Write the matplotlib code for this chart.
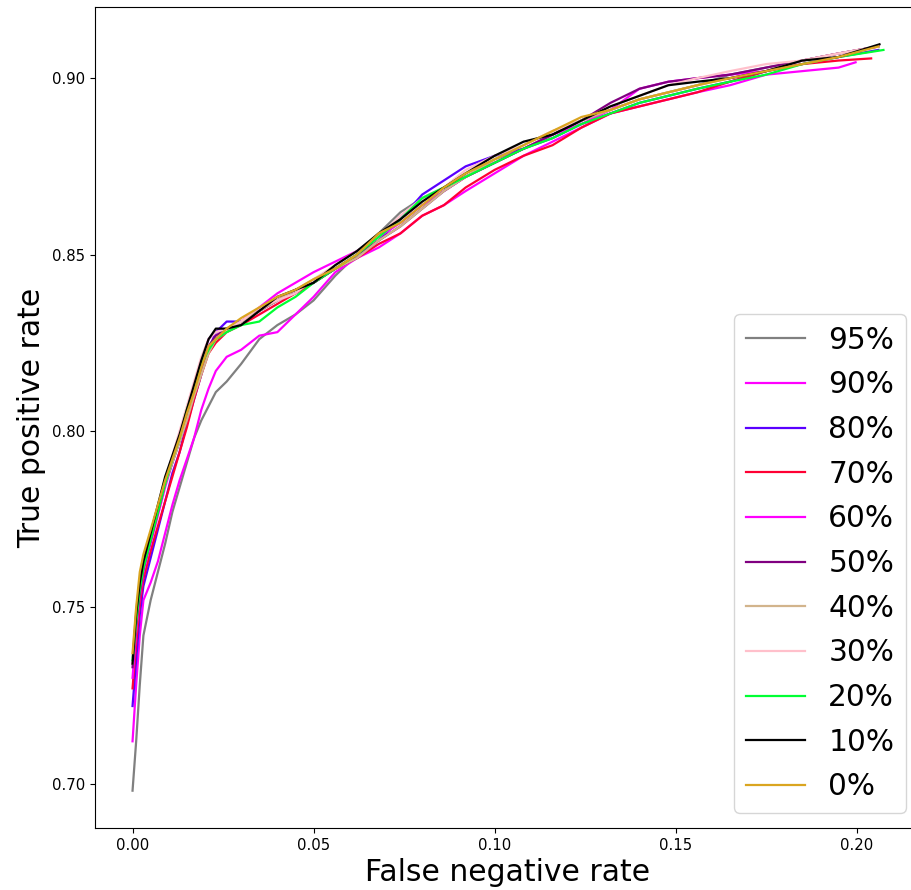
import matplotlib
matplotlib.use("Agg")
import matplotlib.pyplot as plt

# false negative rate grid shared by all curves (last point is per curve)
fnr = [0.000, 0.001, 0.002, 0.003, 0.005, 0.007, 0.009, 0.011, 0.013, 0.015,
       0.017, 0.019, 0.021, 0.023, 0.026, 0.030, 0.035, 0.040, 0.045, 0.050,
       0.056, 0.062, 0.068, 0.074, 0.080, 0.086, 0.092, 0.100, 0.108, 0.116,
       0.124, 0.132, 0.140, 0.148, 0.156, 0.165, 0.175, 0.185, 0.195]

labels = ["95%", "90%", "80%", "70%", "60%", "50%", "40%", "30%", "20%", "10%", "0%"]
colors = ["grey", "magenta", "#5a00ff", "#ff0033", "magenta", "purple",
          "tan", "pink", "#00ff33", "black", "goldenrod"]
last_fnr = [0.206, 0.1997, 0.206, 0.204, 0.206, 0.206, 0.206, 0.206, 0.2074, 0.2063, 0.206]

tpr_95 = [0.698, 0.712, 0.728, 0.742, 0.752, 0.760, 0.768, 0.777, 0.784, 0.791,
          0.798, 0.803, 0.807, 0.811, 0.814, 0.819, 0.826, 0.830, 0.833, 0.837,
          0.844, 0.850, 0.856, 0.862, 0.866, 0.869, 0.872, 0.877, 0.880, 0.884,
          0.888, 0.891, 0.894, 0.896, 0.898, 0.901, 0.903, 0.905, 0.907, 0.909]
tpr_90 = [0.712, 0.728, 0.742, 0.752, 0.757, 0.763, 0.771, 0.779, 0.786, 0.792,
          0.798, 0.806, 0.812, 0.817, 0.821, 0.823, 0.827, 0.828, 0.833, 0.838,
          0.845, 0.849, 0.852, 0.856, 0.861, 0.864, 0.868, 0.873, 0.878, 0.882,
          0.886, 0.890, 0.892, 0.894, 0.896, 0.898, 0.901, 0.902, 0.903, 0.9045]
tpr_80 = [0.722, 0.735, 0.748, 0.756, 0.764, 0.772, 0.780, 0.788, 0.794, 0.802,
          0.809, 0.816, 0.823, 0.828, 0.831, 0.831, 0.834, 0.837, 0.839, 0.842,
          0.846, 0.849, 0.854, 0.860, 0.867, 0.871, 0.875, 0.878, 0.880, 0.883,
          0.887, 0.890, 0.893, 0.895, 0.897, 0.899, 0.902, 0.904, 0.906, 0.908]
tpr_70 = [0.727, 0.740, 0.751, 0.758, 0.766, 0.773, 0.780, 0.787, 0.794, 0.801,
          0.809, 0.816, 0.822, 0.825, 0.828, 0.830, 0.833, 0.836, 0.839, 0.842,
          0.846, 0.849, 0.853, 0.856, 0.861, 0.864, 0.869, 0.874, 0.878, 0.881,
          0.886, 0.890, 0.892, 0.894, 0.896, 0.899, 0.902, 0.904, 0.905, 0.9056]
tpr_60 = [0.730, 0.743, 0.753, 0.760, 0.768, 0.776, 0.784, 0.791, 0.798, 0.806,
          0.813, 0.820, 0.826, 0.828, 0.829, 0.831, 0.835, 0.839, 0.842, 0.845,
          0.848, 0.851, 0.855, 0.859, 0.864, 0.868, 0.872, 0.876, 0.880, 0.884,
          0.887, 0.891, 0.897, 0.899, 0.900, 0.901, 0.902, 0.905, 0.907, 0.909]
tpr_50 = [0.733, 0.745, 0.754, 0.761, 0.769, 0.777, 0.785, 0.791, 0.797, 0.804,
          0.811, 0.818, 0.824, 0.827, 0.829, 0.831, 0.834, 0.837, 0.840, 0.842,
          0.846, 0.850, 0.854, 0.858, 0.863, 0.868, 0.872, 0.876, 0.880, 0.884,
          0.888, 0.893, 0.897, 0.899, 0.900, 0.901, 0.903, 0.905, 0.907, 0.909]
tpr_40 = [0.736, 0.749, 0.758, 0.764, 0.771, 0.778, 0.785, 0.791, 0.797, 0.803,
          0.810, 0.816, 0.822, 0.826, 0.828, 0.831, 0.834, 0.837, 0.840, 0.843,
          0.846, 0.849, 0.854, 0.858, 0.863, 0.868, 0.872, 0.877, 0.881, 0.885,
          0.888, 0.891, 0.894, 0.896, 0.898, 0.900, 0.902, 0.905, 0.907, 0.909]
tpr_30 = [0.734, 0.747, 0.757, 0.764, 0.771, 0.778, 0.786, 0.793, 0.800, 0.807,
          0.814, 0.821, 0.826, 0.828, 0.829, 0.831, 0.835, 0.837, 0.839, 0.843,
          0.847, 0.851, 0.855, 0.861, 0.866, 0.869, 0.874, 0.878, 0.881, 0.885,
          0.888, 0.892, 0.895, 0.898, 0.900, 0.902, 0.904, 0.905, 0.907, 0.909]
tpr_20 = [0.735, 0.746, 0.755, 0.761, 0.769, 0.777, 0.785, 0.792, 0.798, 0.806,
          0.812, 0.819, 0.823, 0.826, 0.828, 0.830, 0.831, 0.835, 0.838, 0.842,
          0.846, 0.850, 0.855, 0.860, 0.866, 0.869, 0.872, 0.876, 0.880, 0.883,
          0.887, 0.890, 0.893, 0.895, 0.897, 0.899, 0.901, 0.904, 0.906, 0.908]
tpr_10 = [0.734, 0.748, 0.757, 0.763, 0.771, 0.779, 0.787, 0.793, 0.799, 0.806,
          0.813, 0.820, 0.826, 0.829, 0.829, 0.830, 0.834, 0.838, 0.840, 0.842,
          0.847, 0.851, 0.856, 0.860, 0.865, 0.869, 0.873, 0.878, 0.882, 0.884,
          0.888, 0.892, 0.895, 0.898, 0.899, 0.900, 0.902, 0.905, 0.906, 0.9096]
tpr_0 = [0.737, 0.750, 0.760, 0.765, 0.772, 0.779, 0.786, 0.792, 0.798, 0.805,
         0.811, 0.818, 0.824, 0.826, 0.829, 0.832, 0.835, 0.838, 0.840, 0.843,
         0.846, 0.850, 0.856, 0.859, 0.864, 0.869, 0.873, 0.877, 0.881, 0.885,
         0.889, 0.891, 0.894, 0.896, 0.898, 0.900, 0.902, 0.904, 0.906, 0.909]

curves = [tpr_95, tpr_90, tpr_80, tpr_70, tpr_60, tpr_50, tpr_40, tpr_30, tpr_20, tpr_10, tpr_0]

plt.rcParams["xtick.labelsize"] = 10.7
plt.rcParams["ytick.labelsize"] = 10.7

fig = plt.figure(figsize=(9.11, 8.90), dpi=100)
# the original picture is cut off on the right, so the axes run past the edge
ax = fig.add_axes([95 / 911, 62 / 890, 826 / 911, 821 / 890])

for tpr, lab, col, end in zip(curves, labels, colors, last_fnr):
    ax.plot(fnr + [end], tpr, color=col, label=lab, linewidth=1.6)

ax.set_xlabel("False negative rate", fontsize=21.5)
ax.set_ylabel("True positive rate", fontsize=21.5)
ax.legend(loc="lower right", fontsize=21.3, labelspacing=0.53)

fig.savefig("out.png", dpi=100)
